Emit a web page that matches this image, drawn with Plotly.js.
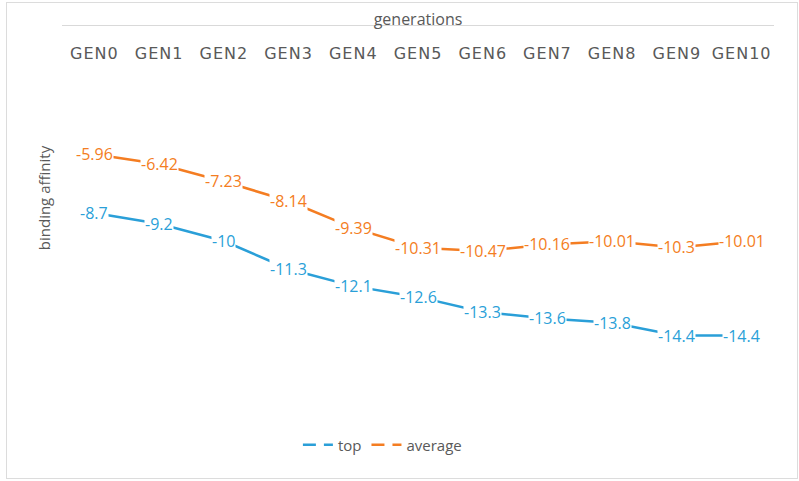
<!DOCTYPE html>
<html>
<head>
<meta charset="utf-8">
<script src="https://cdn.plot.ly/plotly-3.0.1.min.js"></script>
<style>
html,body{margin:0;padding:0;background:#fff;}
#wrap{position:relative;width:799px;height:481px;}
#chart{width:799px;height:481px;}
#frame{position:absolute;left:6px;top:2px;width:790px;height:475px;border:1.5px solid #dcdcdc;pointer-events:none;}
#chart .xtick text{letter-spacing:1px;}
</style>
</head>
<body>
<div id="wrap"><div id="chart"></div><div id="frame"></div></div>
<script>
const categories = ["GEN0","GEN1","GEN2","GEN3","GEN4","GEN5","GEN6","GEN7","GEN8","GEN9","GEN10"];
const topValues = [-8.7,-9.2,-10,-11.3,-12.1,-12.6,-13.3,-13.6,-13.8,-14.4,-14.4];
const averageValues = [-5.96,-6.42,-7.23,-8.14,-9.39,-10.31,-10.47,-10.16,-10.01,-10.3,-10.01];
const seriesNames = ["top","average"];

const blue = "#2a9fd8";
const orange = "#f47d22";
const gray = "#595959";

const traces = [
  {x: categories, y: topValues, mode: "lines", line: {color: blue, width: 2.5}, showlegend: false, hoverinfo: "skip"},
  {x: categories, y: averageValues, mode: "lines", line: {color: orange, width: 2.5}, showlegend: false, hoverinfo: "skip"},
  {x: [null], y: [null], mode: "lines", name: seriesNames[0], line: {color: blue, width: 2.5, dash: "13px,8px"}},
  {x: [null], y: [null], mode: "lines", name: seriesNames[1], line: {color: orange, width: 2.5, dash: "13px,8px"}}
];

const annotations = [];
function addLabels(vals, color){
  vals.forEach((v, i) => {
    annotations.push({x: categories[i], y: v, xref: "x", yref: "y", text: String(v), showarrow: false,
      bgcolor: "#ffffff", borderpad: 0, font: {family: "Open Sans, sans-serif", size: 16, color: color}});
  });
}
addLabels(topValues, blue);
addLabels(averageValues, orange);

const layout = {
  width: 799, height: 481,
  margin: {l: 62, r: 25, t: 26, b: 111},
  paper_bgcolor: "#ffffff", plot_bgcolor: "#ffffff",
  showlegend: true,
  legend: {orientation: "h", x: 0.45, xanchor: "center", y: 0.075, yref: "container", yanchor: "middle",
    font: {family: "Open Sans, sans-serif", size: 15, color: gray}, itemwidth: 30, traceorder: "normal"},
  xaxis: {
    type: "category", side: "top", range: [-0.5, 10.5],
    showline: true, linecolor: "#d9d9d9", linewidth: 1.5,
    ticks: "", showgrid: false, zeroline: false,
    ticklabelposition: "inside", ticklabelstandoff: 22,
    tickfont: {family: "DejaVu Sans, sans-serif", size: 16, color: gray},
    title: {text: "generations", font: {family: "Open Sans, sans-serif", size: 16, color: gray}, standoff: 14}
  },
  yaxis: {
    range: [-16, 0], showticklabels: false, ticks: "", showgrid: false, zeroline: false, showline: false,
    title: {text: "binding affinity", font: {family: "Open Sans, sans-serif", size: 15, color: gray}, standoff: 6}
  },
  annotations: annotations
};

Plotly.newPlot("chart", traces, layout, {displayModeBar: false, staticPlot: true});
</script>
</body>
</html>
